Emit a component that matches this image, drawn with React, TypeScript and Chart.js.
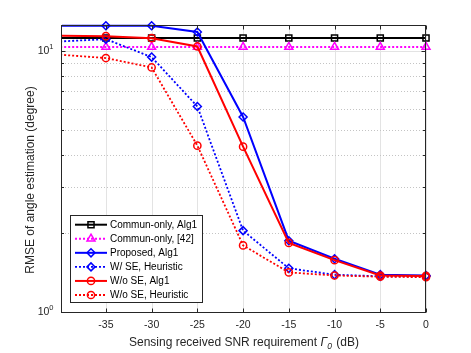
import React, { useEffect, useRef } from "react";
import { Chart, registerables } from "chart.js";
import { drawPoint } from "chart.js/helpers";
Chart.register(...registerables);

const snr = [-40, -35, -30, -25, -20, -15, -10, -5, 0];
const communAlg1 = [11.21, 11.21, 11.21, 11.21, 11.21, 11.21, 11.21, 11.21, 11.21];
const commun42 = [10.36, 10.36, 10.36, 10.36, 10.36, 10.36, 10.36, 10.36, 10.36];
const proposedAlg1 = [12.5, 12.5, 12.5, 11.83, 5.59, 1.876, 1.6, 1.39, 1.38];
const wSEHeuristic = [10.88, 11.1, 9.48, 6.13, 2.05, 1.47, 1.39, 1.37, 1.37];
const woSEAlg1 = [11.45, 11.4, 11.2, 10.41, 4.3, 1.84, 1.58, 1.38, 1.375];
const woSEHeuristic = [9.68, 9.4, 8.65, 4.34, 1.8, 1.418, 1.38, 1.365, 1.36];

const legendLabels = [
  "Commun-only, Alg1",
  "Commun-only, [42]",
  "Proposed, Alg1",
  "W/ SE, Heuristic",
  "W/o SE, Alg1",
  "W/o SE, Heuristic",
];
const xTicks = [-35, -30, -25, -20, -15, -10, -5, 0];
const xTickLabels = ["-35", "-30", "-25", "-20", "-15", "-10", "-5", "0"];
const yMajor = [1, 10];
const yMajorExp = ["0", "1"];
const yMinor = [2, 3, 4, 5, 6, 7, 8, 9];
const xLabelMain = "Sensing received SNR requirement ";
const xLabelSym = "\u0393";
const xLabelSub = "0";
const xLabelTail = " (dB)";
const yLabel = "RMSE of angle estimation (degree)";

const X_MIN = -39.8;
const X_MAX = 0;
const Y_MIN = 1;
const Y_MAX = 12.47;
const FONT = "'Liberation Sans', Arial, Helvetica, sans-serif";
const AXC = "#262626";

type Style = {
  color: string;
  dash: number[];
  pointStyle: string;
  radius: number;
};
const styles: Style[] = [
  { color: "#000000", dash: [], pointStyle: "rect", radius: 4.3 },
  { color: "#ff00ff", dash: [2, 2], pointStyle: "triangle", radius: 4.6 },
  { color: "#0000ff", dash: [], pointStyle: "rectRot", radius: 4.0 },
  { color: "#0000ff", dash: [2, 2], pointStyle: "rectRot", radius: 4.0 },
  { color: "#ff0000", dash: [], pointStyle: "circle", radius: 3.6 },
  { color: "#ff0000", dash: [2, 2], pointStyle: "circle", radius: 3.6 },
];
const series = [communAlg1, commun42, proposedAlg1, wSEHeuristic, woSEAlg1, woSEHeuristic];

const matlabAxes = {
  id: "matlabAxes",
  beforeDatasetsDraw(chart: any) {
    const { ctx, chartArea: a, scales } = chart;
    const x = scales.x;
    const y = scales.y;
    ctx.save();
    ctx.lineWidth = 1;
    ctx.strokeStyle = "#e3e3e3";
    xTicks.forEach((v) => {
      const px = Math.round(x.getPixelForValue(v)) + 0.5;
      ctx.beginPath();
      ctx.moveTo(px, a.top);
      ctx.lineTo(px, a.bottom);
      ctx.stroke();
    });
    ctx.strokeStyle = "#e3e3e3";
    yMajor.forEach((v) => {
      const py = Math.round(y.getPixelForValue(v)) + 0.5;
      ctx.beginPath();
      ctx.moveTo(a.left, py);
      ctx.lineTo(a.right, py);
      ctx.stroke();
    });
    ctx.setLineDash([1, 2]);
    ctx.strokeStyle = "#c4c4c4";
    yMinor.forEach((v) => {
      const py = Math.round(y.getPixelForValue(v)) + 0.5;
      ctx.beginPath();
      ctx.moveTo(a.left, py);
      ctx.lineTo(a.right, py);
      ctx.stroke();
    });
    ctx.restore();
  },
  afterDatasetsDraw(chart: any) {
    const { ctx, chartArea: a, scales } = chart;
    const x = scales.x;
    const y = scales.y;
    ctx.save();
    // frame
    ctx.strokeStyle = AXC;
    ctx.lineWidth = 1;
    const L = Math.round(a.left) - 0.5;
    const R = Math.round(a.right) - 0.5;
    const T = Math.round(a.top) - 0.5;
    const B = Math.round(a.bottom) + 0.5;
    ctx.strokeRect(L, T, R - L, B - T);
    // x ticks
    xTicks.forEach((v) => {
      const px = Math.round(x.getPixelForValue(v)) + 0.5;
      ctx.beginPath();
      ctx.moveTo(px, B);
      ctx.lineTo(px, B - 4);
      ctx.moveTo(px, T);
      ctx.lineTo(px, T + 4);
      ctx.stroke();
    });
    // y ticks
    [...yMajor, ...yMinor].forEach((v) => {
      const py = Math.round(y.getPixelForValue(v)) + 0.5;
      const len = yMajor.includes(v) ? 4 : 2.5;
      ctx.beginPath();
      ctx.moveTo(L, py);
      ctx.lineTo(L + len, py);
      ctx.moveTo(R, py);
      ctx.lineTo(R - len, py);
      ctx.stroke();
    });
    // x tick labels
    ctx.fillStyle = AXC;
    ctx.font = `10.5px ${FONT}`;
    ctx.textAlign = "center";
    ctx.textBaseline = "middle";
    xTicks.forEach((v, i) => {
      ctx.fillText(xTickLabels[i], x.getPixelForValue(v), 325);
    });
    // y tick labels 10^n
    yMajor.forEach((v, i) => {
      const py = y.getPixelForValue(v);
      ctx.font = `7.5px ${FONT}`;
      ctx.textAlign = "right";
      ctx.textBaseline = "middle";
      const supW = ctx.measureText(yMajorExp[i]).width;
      ctx.fillText(yMajorExp[i], 53.5, py - 4.5);
      ctx.font = `10.5px ${FONT}`;
      ctx.fillText("10", 53.5 - supW, py + 0.5);
    });
    // x label
    ctx.textAlign = "left";
    ctx.textBaseline = "alphabetic";
    ctx.font = `12px ${FONT}`;
    const w1 = ctx.measureText(xLabelMain).width;
    ctx.font = `italic 12px ${FONT}`;
    const w2 = ctx.measureText(xLabelSym).width;
    ctx.font = `italic 8.5px ${FONT}`;
    const w3 = ctx.measureText(xLabelSub).width;
    ctx.font = `12px ${FONT}`;
    const w4 = ctx.measureText(xLabelTail).width;
    const total = w1 + w2 + w3 + 1 + w4;
    let sx = (a.left + a.right) / 2 - total / 2;
    const by = 345.5;
    ctx.fillText(xLabelMain, sx, by);
    sx += w1;
    ctx.font = `italic 12px ${FONT}`;
    ctx.fillText(xLabelSym, sx, by);
    sx += w2;
    ctx.font = `italic 8.5px ${FONT}`;
    ctx.fillText(xLabelSub, sx, by + 3.5);
    sx += w3 + 1;
    ctx.font = `12px ${FONT}`;
    ctx.fillText(xLabelTail, sx, by);
    // y label
    ctx.save();
    ctx.translate(31, 180);
    ctx.rotate(-Math.PI / 2);
    ctx.textAlign = "center";
    ctx.textBaseline = "middle";
    ctx.font = `12px ${FONT}`;
    ctx.fillText(yLabel, 0, 0);
    ctx.restore();
    // legend
    const lx = 70.5, ly = 215.5, lw = 132, lh = 87;
    ctx.fillStyle = "#ffffff";
    ctx.fillRect(lx, ly, lw, lh);
    ctx.strokeStyle = AXC;
    ctx.lineWidth = 1;
    ctx.strokeRect(lx, ly, lw, lh);
    legendLabels.forEach((lab, i) => {
      const st = styles[i];
      const ry = 224.7 + i * 14.06;
      ctx.strokeStyle = st.color;
      ctx.lineWidth = st.dash.length ? 1.8 : 2;
      ctx.setLineDash(st.dash);
      ctx.beginPath();
      ctx.moveTo(75, ry);
      ctx.lineTo(107, ry);
      ctx.stroke();
      ctx.setLineDash([]);
      ctx.lineWidth = 1.5;
      ctx.fillStyle = "rgba(0,0,0,0)";
      drawPoint(ctx, { pointStyle: st.pointStyle as any, radius: st.radius, rotation: 0, borderWidth: 1.5 }, 91, ry);
      ctx.fillStyle = "#000000";
      ctx.font = `10px ${FONT}`;
      ctx.textAlign = "left";
      ctx.textBaseline = "middle";
      ctx.fillText(lab, 110, ry + 0.5);
    });
    ctx.restore();
  },
};

export default function App() {
  const ref = useRef<HTMLCanvasElement>(null);
  useEffect(() => {
    if (!ref.current) return;
    const datasets = series.map((arr, i) => ({
      label: legendLabels[i],
      data: snr.map((xv, j) => ({ x: xv, y: arr[j] })),
      borderColor: styles[i].color,
      borderWidth: styles[i].dash.length ? 1.8 : 2,
      borderDash: styles[i].dash,
      pointStyle: styles[i].pointStyle,
      pointRadius: (c: any) => (c.raw && c.raw.x < X_MIN ? 0 : styles[i].radius),
      pointBorderWidth: 1.5,
      pointBorderColor: styles[i].color,
      pointBackgroundColor: "rgba(0,0,0,0)",
      fill: false,
      tension: 0,
      clip: { left: 0, top: 6, right: 8, bottom: 6 },
      order: 10 - i,
    }));
    const chart = new Chart(ref.current, {
      type: "line",
      data: { datasets: datasets as any },
      options: {
        animation: false,
        responsive: false,
        maintainAspectRatio: false,
        events: [],
        layout: { padding: { left: 62, right: 45, top: 26, bottom: 41 } },
        plugins: { legend: { display: false }, tooltip: { enabled: false } },
        scales: {
          x: { type: "linear", min: X_MIN, max: X_MAX, display: false },
          y: { type: "logarithmic", min: Y_MIN, max: Y_MAX, display: false },
        },
      },
      plugins: [matlabAxes as any],
    });
    return () => chart.destroy();
  }, []);
  return (
    <div style={{ position: "absolute", left: 0, top: 0, width: 471, height: 353, background: "#fff" }}>
      <canvas ref={ref} width={471} height={353} style={{ display: "block" }} />
    </div>
  );
}
